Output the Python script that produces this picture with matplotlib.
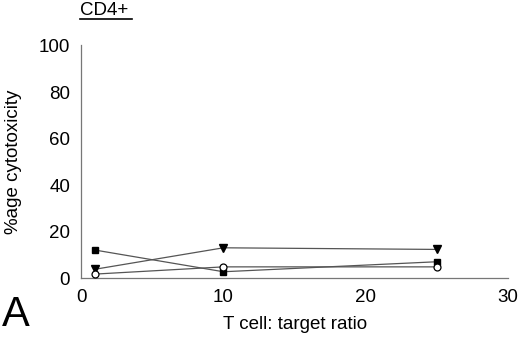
import matplotlib
matplotlib.use("Agg")
import matplotlib.pyplot as plt

plt.rcParams['font.family'] = ['Liberation Sans', 'DejaVu Sans']

ratios = [1, 10, 25]
series_square = [12, 2.7, 7]
series_triangle = [3.8, 13, 12.3]
series_circle = [1.7, 4.8, 4.8]

xticks = [0, 10, 20, 30]
yticks = [0, 20, 40, 60, 80, 100]

fig = plt.figure(figsize=(5.2, 3.37), dpi=100)
ax = fig.add_axes([0.156, 0.175, 0.821, 0.69])

lc = '#555555'
ax.plot(ratios, series_square, color=lc, lw=0.9, marker='s', ms=4.8,
        mfc='black', mec='black', zorder=3, clip_on=False)
ax.plot(ratios, series_triangle, color=lc, lw=0.9, marker='v', ms=5.5,
        mfc='black', mec='black', zorder=3, clip_on=False)
ax.plot(ratios, series_circle, color=lc, lw=0.9, marker='o', ms=5,
        mfc='white', mec='black', mew=0.9, zorder=4, clip_on=False)

ax.set_xlim(0, 30)
ax.set_ylim(0, 100)
ax.set_xticks(xticks)
ax.set_yticks(yticks)
ax.tick_params(axis='x', length=0, labelsize=13.5, pad=8)
ax.tick_params(axis='y', length=0, labelsize=13.5, pad=8)
for s in ['top', 'right']:
    ax.spines[s].set_visible(False)
for s in ['left', 'bottom']:
    ax.spines[s].set_color('#777777')
    ax.spines[s].set_linewidth(0.9)

ax.set_xlabel('T cell: target ratio', fontsize=13.5, labelpad=7)
ax.set_ylabel('%age cytotoxicity', fontsize=13.5, labelpad=12)

fig.text(0.154, 0.955, 'CD4+', fontsize=13.5, ha='left', va='baseline')
fig.add_artist(plt.Line2D([0.154, 0.254], [0.943, 0.943], color='black', lw=1.2,
                          transform=fig.transFigure))
fig.text(0.004, 0.006, 'A', fontsize=30, ha='left', va='bottom')

fig.savefig('out.png', dpi=100)
